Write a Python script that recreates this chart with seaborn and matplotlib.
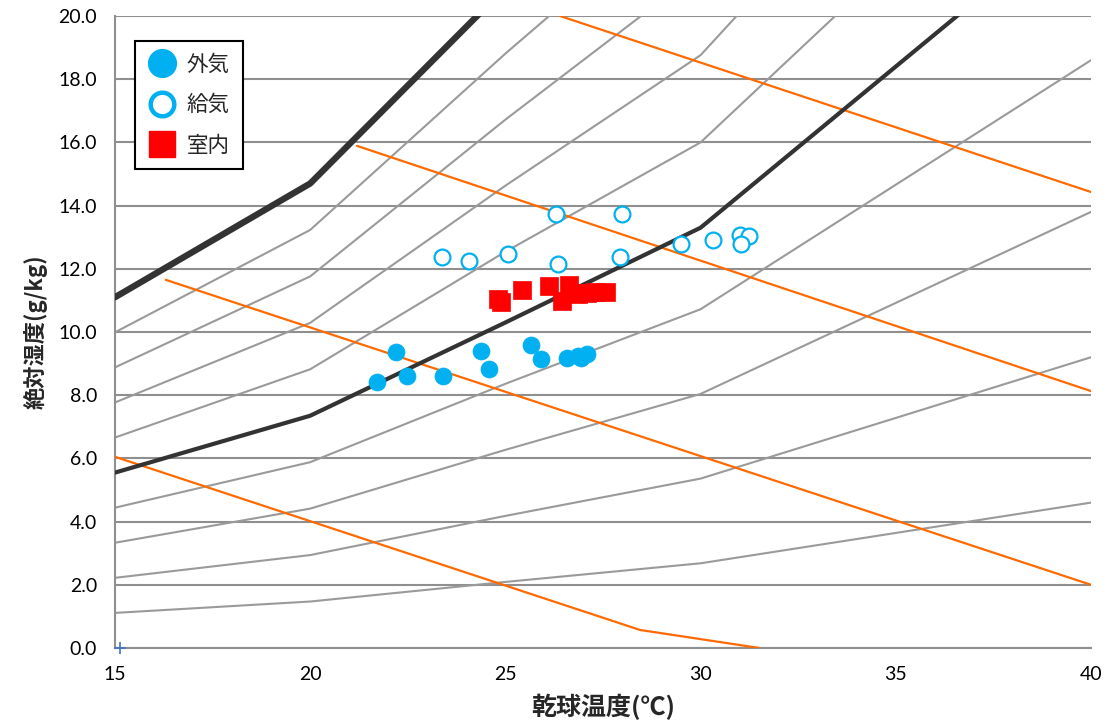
import numpy as np
import pandas as pd
import matplotlib
matplotlib.use("Agg")
import matplotlib.pyplot as plt
import seaborn as sns
from matplotlib.lines import Line2D

# dry-bulb temperature nodes of the relative humidity curves
temps = [15, 20, 25, 30, 40]

# absolute humidity (g/kg) of each RH curve at those nodes
rh_10 = [1.11, 1.47, 2.09, 2.68, 4.60]
rh_20 = [2.22, 2.94, 4.18, 5.36, 9.20]
rh_30 = [3.33, 4.41, 6.27, 8.04, 13.80]
rh_40 = [4.44, 5.88, 8.36, 10.72, 18.60]
rh_50 = [5.55, 7.35, 10.30, 13.30, 23.50]
rh_60 = [6.66, 8.82, 12.54, 16.00, 27.60]
rh_70 = [7.77, 10.29, 14.63, 18.76, 32.20]
rh_80 = [8.88, 11.76, 16.72, 21.44, 36.80]
rh_90 = [9.99, 13.23, 18.81, 24.12, 41.40]
rh_100 = [11.10, 14.70, 20.90, 26.80, 46.00]

# enthalpy lines
h1_t = [15, 28.45, 31.5]
h1_x = [6.05, 0.57, 0.0]
h2_t = [16.3, 40]
h2_x = [11.65, 2.0]
h3_t = [21.2, 40]
h3_x = [15.89, 8.13]
h4_t = [26.4, 40]
h4_x = [20.0, 14.43]

# measured points
outside_t = [21.70, 22.21, 22.47, 23.41, 24.37, 24.59, 25.66, 25.91, 26.59, 26.87, 26.94, 27.10]
outside_x = [8.43, 9.38, 8.62, 8.62, 9.41, 8.82, 9.59, 9.15, 9.17, 9.25, 9.17, 9.29]
supply_t = [23.37, 24.07, 25.07, 26.30, 26.36, 27.98, 27.94, 29.50, 30.31, 31.01, 31.25, 31.03]
supply_x = [12.38, 12.26, 12.46, 13.73, 12.15, 13.72, 12.38, 12.78, 12.91, 13.07, 13.05, 12.78]
room_t = [24.80, 24.90, 25.42, 26.12, 26.62, 26.45, 26.85, 27.10, 27.30, 27.58]
room_x = [11.05, 10.95, 11.33, 11.46, 11.50, 10.98, 11.20, 11.22, 11.25, 11.28]

gray_curves = {"10%": rh_10, "20%": rh_20, "30%": rh_30, "40%": rh_40,
               "60%": rh_60, "70%": rh_70, "80%": rh_80, "90%": rh_90}
gray_df = pd.DataFrame([(k, t, v) for k, vals in gray_curves.items()
                        for t, v in zip(temps, vals)], columns=["rh", "t", "x"])

sns.set_style("white")
plt.rcParams["font.family"] = ["Lato", "Noto Sans CJK JP", "DejaVu Sans"]
cjk = ["Noto Sans CJK JP", "DejaVu Sans"]

fig = plt.figure(figsize=(11.07, 7.27), dpi=100)
ax = fig.add_axes([0.1039, 0.1087, 0.8816, 0.8693])

ax.set_xlim(15, 40)
ax.set_ylim(0, 20)
ax.set_yticks(np.arange(0, 20.1, 2))
ax.set_xticks([15, 20, 25, 30, 35, 40])
ax.set_yticklabels([f"{v:.1f}" for v in np.arange(0, 20.1, 2)])
ax.yaxis.grid(True, color="#8f8f8f", lw=1.5, zorder=0)
ax.set_axisbelow(True)

sns.lineplot(data=gray_df, x="t", y="x", units="rh", estimator=None, sort=False,
             color="#9a9a9a", lw=1.5, ax=ax, zorder=2)
for tt, xx in [(h1_t, h1_x), (h2_t, h2_x), (h3_t, h3_x), (h4_t, h4_x)]:
    sns.lineplot(x=tt, y=xx, color="#ff6a00", lw=1.6, sort=False, ax=ax, zorder=3)
sns.lineplot(x=temps, y=rh_50, color="#333333", lw=3.0, sort=False, ax=ax, zorder=4)
sns.lineplot(x=temps, y=rh_100, color="#333333", lw=4.6, sort=False, ax=ax, zorder=4)

sns.scatterplot(x=outside_t, y=outside_x, marker="o", s=150, color="#00b0f0",
                edgecolor="#00b0f0", linewidth=0.5, ax=ax, zorder=6)
sns.scatterplot(x=supply_t, y=supply_x, marker="o", s=130, facecolor="white",
                edgecolor="#00b0f0", linewidth=1.6, ax=ax, zorder=6)
sns.scatterplot(x=room_t, y=room_x, marker="s", s=150, color="#ff0000",
                edgecolor="#ff0000", linewidth=0.5, ax=ax, zorder=6)
ax.plot([15.12], [0], marker="+", color="#4472c4", ms=9, mew=1.2, clip_on=False, zorder=7)

for side in ["top", "right"]:
    ax.spines[side].set_visible(False)
for side in ["left", "bottom"]:
    ax.spines[side].set_color("#8f8f8f")
    ax.spines[side].set_linewidth(1.5)
ax.tick_params(axis="both", direction="out", length=7, width=1.5, color="#8f8f8f",
               labelsize=14, labelcolor="black", pad=6)

ax.set_xlabel("乾球温度(℃)", family=cjk, fontsize=18, fontweight="bold", labelpad=8)
ax.set_ylabel("絶対湿度(g/kg)", family=cjk, fontsize=16, fontweight="bold", labelpad=8)

handles = [
    Line2D([], [], ls="", marker="o", ms=20, color="#00b0f0"),
    Line2D([], [], ls="", marker="o", ms=17, mfc="white", mec="#00b0f0", mew=3.2),
    Line2D([], [], ls="", marker="s", ms=19, color="#ff0000"),
]
leg = ax.legend(handles, ["外気", "給気", "室内"], loc="upper left",
                bbox_to_anchor=(0.0205, 0.9604), prop={"family": cjk, "size": 15.5},
                frameon=True, fancybox=False, framealpha=1, edgecolor="black",
                borderpad=0.6, labelspacing=0.85, handlelength=1.3, handletextpad=0.5,
                borderaxespad=0)
leg.get_frame().set_linewidth(1.5)

fig.savefig("out.png", dpi=100)
